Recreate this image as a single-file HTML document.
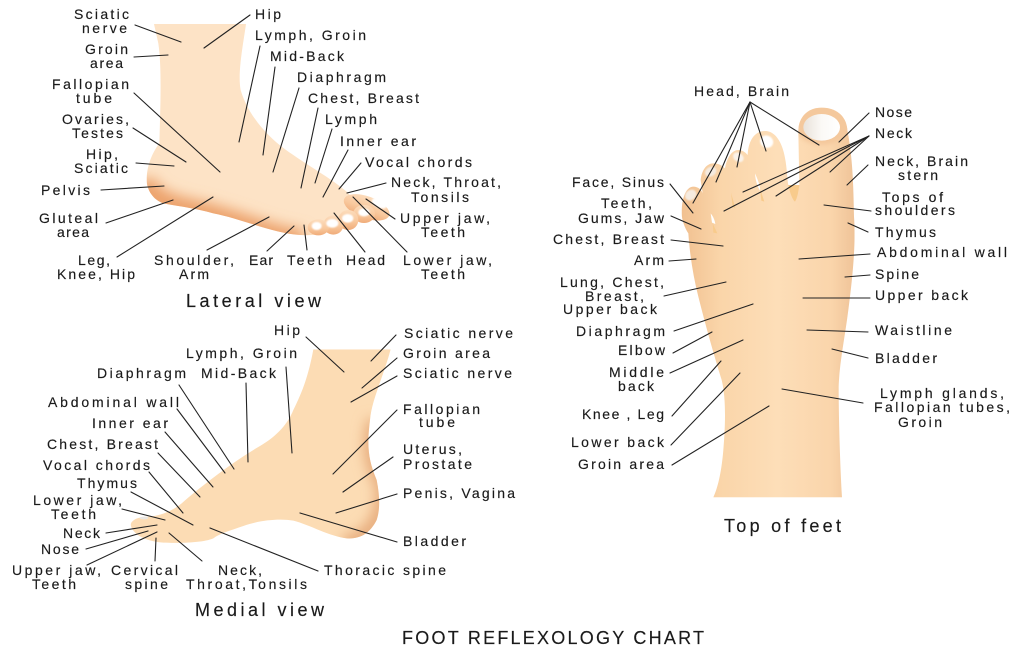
<!DOCTYPE html>
<html>
<head>
<meta charset="utf-8">
<style>
html,body{margin:0;padding:0;background:#fff;width:1023px;height:652px;overflow:hidden}
svg{display:block}
text{font-family:"Liberation Sans",sans-serif;font-size:14px;fill:#1a1a1a;stroke:#1a1a1a;stroke-width:.15}
.t{font-size:18px}
line{stroke:#222;stroke-width:1.1;stroke-linecap:round}
</style>
</head>
<body>
<svg width="1023" height="652" viewBox="0 0 1023 652" xmlns="http://www.w3.org/2000/svg">
<defs>
<linearGradient id="toe" x1="0" y1="0" x2="0" y2="1">
<stop offset="0" stop-color="#fcdcbc"/><stop offset=".55" stop-color="#f9c99e"/><stop offset="1" stop-color="#f0ac7a"/>
</linearGradient>
<linearGradient id="top" gradientUnits="userSpaceOnUse" x1="395" y1="0" x2="915" y2="0">
<stop offset="0" stop-color="#f1c090"/><stop offset=".22" stop-color="#fad5a9"/><stop offset=".55" stop-color="#fddeb8"/><stop offset=".86" stop-color="#fad5ab"/><stop offset="1" stop-color="#efc398"/>
</linearGradient>
<linearGradient id="nail" x1="0" y1="0" x2="1" y2="0">
<stop offset="0" stop-color="#e9e2da"/><stop offset=".5" stop-color="#fbf9f6"/><stop offset="1" stop-color="#ffffff"/>
</linearGradient>
<filter id="b18" x="-30%" y="-30%" width="160%" height="160%"><feGaussianBlur stdDeviation="20"/></filter>
<filter id="b3" x="-40%" y="-40%" width="180%" height="180%"><feGaussianBlur stdDeviation="2"/></filter>
<filter id="b6" x="-30%" y="-30%" width="160%" height="160%"><feGaussianBlur stdDeviation="6"/></filter>
<clipPath id="clat"><path d="M462,72 L738,72 C730,130 712,220 722,270 C745,350 810,420 880,465 C930,500 1000,540 1040,575 C1070,600 1060,650 1000,690 C960,705 930,707 900,705 C820,700 720,655 640,640 C590,625 530,618 490,610 C460,600 440,570 440,540 C440,500 455,460 478,430 C482,300 485,200 475,130 Z"/></clipPath>
<clipPath id="cmed"><path d="M940,88 L1172,88 C1150,170 1115,240 1110,300 C1100,380 1105,420 1130,480 C1140,530 1140,570 1130,600 C1110,640 1080,658 1040,655 C990,650 930,615 880,602 C840,595 780,600 730,618 C690,632 660,640 640,655 C610,668 540,670 490,668 C450,665 400,650 392,615 C395,595 425,590 450,590 C490,585 520,570 545,550 C590,510 690,430 780,378 C820,355 860,320 880,270 C905,220 925,170 940,88 Z"/></clipPath>
<clipPath id="ctop"><path d="M490,1282 L876,1282 C870,1180 866,1040 866,950 C868,880 885,800 895,720 C908,620 918,520 912,440 C910,310 905,250 892,180 C890,140 860,113 815,113 C775,113 745,140 745,185 L748,345 L715,345 C712,330 712,310 707,275 C700,225 680,183 645,183 C615,183 595,210 593,255 C585,245 575,240 565,240 C545,240 530,265 525,295 C515,285 505,280 490,280 C470,280 455,300 452,330 L458,370 C455,360 445,350 430,350 C410,350 395,380 395,430 C395,450 405,475 415,490 C420,560 430,620 445,680 C465,760 490,850 515,930 C530,990 525,1080 520,1140 C515,1200 505,1250 490,1282 Z"/></clipPath>
</defs>

<!-- Lateral foot -->
<g transform="scale(0.33333)">
<g clip-path="url(#clat)">
<rect x="430" y="60" width="760" height="660" fill="#fde3c6"/>
<path d="M430,540 C445,625 590,630 640,650 C720,670 820,715 910,725" fill="none" stroke="#eca26c" stroke-width="72" filter="url(#b18)"/>
</g>
<ellipse cx="1100" cy="622" rx="72" ry="33" fill="url(#toe)" transform="rotate(20 1100 622)"/>
<ellipse cx="1092" cy="642" rx="33" ry="27" fill="url(#toe)"/>
<ellipse cx="1045" cy="660" rx="30" ry="30" fill="url(#toe)"/>
<ellipse cx="1000" cy="675" rx="30" ry="29" fill="url(#toe)"/>
<ellipse cx="955" cy="682" rx="32" ry="24" fill="url(#toe)"/>
<ellipse cx="1138" cy="610" rx="24" ry="13" fill="#fff" transform="rotate(25 1138 610)" filter="url(#b3)"/>
<ellipse cx="1092" cy="637" rx="17" ry="12" fill="#fff" filter="url(#b3)"/>
<ellipse cx="1043" cy="655" rx="17" ry="13" fill="#fff" filter="url(#b3)"/>
<ellipse cx="997" cy="670" rx="18" ry="13" fill="#fff" filter="url(#b3)"/>
<ellipse cx="950" cy="678" rx="15" ry="12" fill="#fff" filter="url(#b3)"/>
</g>

<!-- Medial foot -->
<g transform="translate(0,320) scale(0.33333)">
<g clip-path="url(#cmed)">
<rect x="380" y="80" width="800" height="600" fill="#fcdcb4"/>
<path d="M1125,300 C1100,400 1125,440 1150,500 C1155,580 1120,660 1030,670" fill="none" stroke="#e5a878" stroke-width="44" filter="url(#b18)"/>
</g>
<ellipse cx="432" cy="594" rx="13" ry="4" fill="#e9e6e2"/>
</g>

<!-- Top foot -->
<g transform="translate(550,70) scale(0.33333)">
<g clip-path="url(#ctop)">
<rect x="380" y="100" width="540" height="1190" fill="url(#top)"/>
<ellipse cx="815" cy="165" rx="80" ry="60" fill="#f4c89c" filter="url(#b6)"/>
</g>
<ellipse cx="815" cy="172" rx="55" ry="40" fill="url(#nail)"/>
<ellipse cx="650" cy="215" rx="20" ry="18" fill="#fff" transform="rotate(30 650 215)" filter="url(#b3)"/>
<ellipse cx="565" cy="262" rx="17" ry="13" fill="#fbf3ea" transform="rotate(35 565 262)" filter="url(#b3)"/>
<ellipse cx="482" cy="305" rx="18" ry="14" fill="#f5ebe0" transform="rotate(-30 482 305)" filter="url(#b3)"/>
<ellipse cx="422" cy="375" rx="18" ry="15" fill="#f5ebe0" transform="rotate(-40 422 375)" filter="url(#b3)"/>
<path fill="#f8cb8c" d="M715,345 L748,345 C745,365 742,385 735,395 C728,390 720,370 715,345 Z"/>
<path fill="#fff" d="M615,310 C622,325 630,345 632,365 C622,350 616,330 615,310 Z"/>
<path fill="#f8cb8c" d="M630,355 L643,395 L634,392 Z"/>
<path fill="#f8cb8c" d="M543,368 L556,415 L548,410 Z"/>
<path fill="#fff" d="M482,430 C490,440 494,450 496,462 L486,458 Z"/>
<path fill="#f8cb8c" d="M488,460 L502,490 L490,488 Z"/>
</g>

<!-- Lateral lines -->
<line x1="135" y1="25" x2="181" y2="42"/><line x1="250" y1="15" x2="204" y2="48"/>
<line x1="134" y1="57" x2="168" y2="55"/><line x1="260" y1="46" x2="239" y2="142"/>
<line x1="275" y1="67" x2="263" y2="155"/><line x1="299" y1="88" x2="273" y2="172"/>
<line x1="318" y1="108" x2="301" y2="188"/><line x1="332" y1="129" x2="315" y2="183"/>
<line x1="348" y1="150" x2="323" y2="197"/><line x1="361" y1="163" x2="339" y2="189"/>
<line x1="386" y1="183" x2="347" y2="193"/><line x1="395" y1="219" x2="366" y2="199"/>
<line x1="407" y1="252" x2="353" y2="197"/><line x1="365" y1="252" x2="334" y2="213"/>
<line x1="307" y1="250" x2="304" y2="225"/><line x1="267" y1="251" x2="294" y2="226"/>
<line x1="207" y1="250" x2="269" y2="217"/><line x1="117" y1="257" x2="213" y2="197"/>
<line x1="106" y1="223" x2="173" y2="200"/><line x1="101" y1="190" x2="164" y2="186"/>
<line x1="136" y1="163" x2="174" y2="166"/><line x1="133" y1="128" x2="186" y2="162"/>
<line x1="134" y1="93" x2="220" y2="172"/>

<!-- Medial lines -->
<line x1="306" y1="337" x2="344" y2="372"/><line x1="396" y1="335" x2="371" y2="361"/>
<line x1="397" y1="358" x2="362" y2="388"/><line x1="397" y1="376" x2="351" y2="402"/>
<line x1="286" y1="367" x2="292" y2="453"/><line x1="246" y1="383" x2="248" y2="462"/>
<line x1="179" y1="385" x2="234" y2="469"/><line x1="177" y1="409" x2="225" y2="473"/>
<line x1="165" y1="432" x2="213" y2="487"/><line x1="158" y1="453" x2="200" y2="497"/>
<line x1="149" y1="472" x2="183" y2="513"/><line x1="131" y1="492" x2="193" y2="525"/>
<line x1="122" y1="509" x2="165" y2="520"/><line x1="106" y1="533" x2="157" y2="525"/>
<line x1="86" y1="549" x2="148" y2="531"/><line x1="87" y1="565" x2="157" y2="532"/>
<line x1="155" y1="561" x2="156" y2="538"/><line x1="202" y1="561" x2="169" y2="533"/>
<line x1="318" y1="571" x2="210" y2="528"/><line x1="397" y1="542" x2="300" y2="513"/>
<line x1="397" y1="494" x2="336" y2="513"/><line x1="393" y1="457" x2="343" y2="492"/>
<line x1="397" y1="410" x2="333" y2="474"/>

<!-- Top lines -->
<line x1="750" y1="102" x2="693" y2="203"/><line x1="750" y1="102" x2="716" y2="182"/>
<line x1="750" y1="102" x2="737" y2="167"/><line x1="750" y1="102" x2="766" y2="151"/>
<line x1="750" y1="102" x2="819" y2="145"/><line x1="869" y1="113" x2="839" y2="142"/>
<line x1="869" y1="136" x2="743" y2="192"/><line x1="869" y1="136" x2="724" y2="211"/>
<line x1="869" y1="136" x2="776" y2="196"/><line x1="869" y1="136" x2="830" y2="172"/>
<line x1="868" y1="165" x2="847" y2="185"/><line x1="871" y1="211" x2="824" y2="205"/>
<line x1="868" y1="232" x2="848" y2="223"/><line x1="870" y1="254" x2="799" y2="259"/>
<line x1="870" y1="275" x2="845" y2="277"/><line x1="870" y1="298" x2="803" y2="298"/>
<line x1="868" y1="332" x2="807" y2="330"/><line x1="868" y1="358" x2="832" y2="349"/>
<line x1="863" y1="403" x2="782" y2="389"/><line x1="670" y1="184" x2="693" y2="213"/>
<line x1="671" y1="216" x2="701" y2="229"/><line x1="671" y1="240" x2="723" y2="246"/>
<line x1="669" y1="261" x2="696" y2="259"/><line x1="664" y1="296" x2="726" y2="282"/>
<line x1="674" y1="331" x2="753" y2="304"/><line x1="673" y1="353" x2="712" y2="332"/>
<line x1="670" y1="373" x2="743" y2="340"/><line x1="672" y1="416" x2="721" y2="361"/>
<line x1="671" y1="445" x2="740" y2="373"/><line x1="672" y1="465" x2="769" y2="406"/>

<!-- Lateral labels -->
<text x="74" y="19" textLength="55">Sciatic</text><text x="82" y="33" textLength="45">nerve</text>
<text x="85" y="54" textLength="43">Groin</text><text x="90" y="68" textLength="33">area</text>
<text x="52" y="89" textLength="77">Fallopian</text><text x="76" y="103" textLength="36">tube</text>
<text x="62" y="124" textLength="67">Ovaries,</text><text x="72" y="138" textLength="51">Testes</text>
<text x="86" y="159" textLength="32">Hip,</text><text x="74" y="173" textLength="54">Sciatic</text>
<text x="41" y="195" textLength="49">Pelvis</text>
<text x="39" y="223" textLength="59">Gluteal</text><text x="57" y="237" textLength="32">area</text>
<text x="78" y="265" textLength="32">Leg,</text><text x="57" y="279" textLength="78">Knee, Hip</text>
<text x="154" y="265" textLength="80">Shoulder,</text><text x="179" y="279" textLength="30">Arm</text>
<text x="249" y="265" textLength="24">Ear</text><text x="287" y="265" textLength="45">Teeth</text>
<text x="346" y="265" textLength="39">Head</text>
<text x="403" y="265" textLength="89">Lower jaw,</text><text x="421" y="279" textLength="44">Teeth</text>
<text x="400" y="223" textLength="90">Upper jaw,</text><text x="421" y="237" textLength="44">Teeth</text>
<text x="391" y="187" textLength="110">Neck, Throat,</text><text x="411" y="202" textLength="58">Tonsils</text>
<text x="365" y="167" textLength="107">Vocal chords</text>
<text x="340" y="146" textLength="76">Inner ear</text>
<text x="325" y="124" textLength="52">Lymph</text>
<text x="308" y="103" textLength="111">Chest, Breast</text>
<text x="297" y="82" textLength="89">Diaphragm</text>
<text x="270" y="61" textLength="74">Mid-Back</text>
<text x="255" y="40" textLength="111">Lymph, Groin</text>
<text x="255" y="19" textLength="26">Hip</text>
<text class="t" x="186" y="307" textLength="135">Lateral view</text>

<!-- Medial labels -->
<text x="274" y="335" textLength="26">Hip</text>
<text x="186" y="358" textLength="111">Lymph, Groin</text>
<text x="97" y="378" textLength="89">Diaphragm</text>
<text x="201" y="378" textLength="75">Mid-Back</text>
<text x="48" y="407" textLength="131">Abdominal wall</text>
<text x="92" y="428" textLength="76">Inner ear</text>
<text x="47" y="449" textLength="111">Chest, Breast</text>
<text x="43" y="470" textLength="107">Vocal chords</text>
<text x="77" y="488" textLength="60">Thymus</text>
<text x="33" y="505" textLength="89">Lower jaw,</text><text x="51" y="519" textLength="45">Teeth</text>
<text x="63" y="538" textLength="37">Neck</text>
<text x="41" y="554" textLength="38">Nose</text>
<text x="12" y="575" textLength="89">Upper jaw,</text><text x="32" y="589" textLength="44">Teeth</text>
<text x="111" y="575" textLength="67">Cervical</text><text x="125" y="589" textLength="43">spine</text>
<text x="218" y="575" textLength="44">Neck,</text><text x="186" y="589" textLength="121">Throat,Tonsils</text>
<text x="324" y="575" textLength="122">Thoracic spine</text>
<text x="403" y="546" textLength="63">Bladder</text>
<text x="403" y="498" textLength="112">Penis, Vagina</text>
<text x="403" y="454" textLength="59">Uterus,</text><text x="403" y="469" textLength="69">Prostate</text>
<text x="403" y="414" textLength="77">Fallopian</text><text x="419" y="427" textLength="36">tube</text>
<text x="404" y="338" textLength="109">Sciatic nerve</text>
<text x="403" y="358" textLength="87">Groin area</text>
<text x="403" y="378" textLength="109">Sciatic nerve</text>
<text class="t" x="195" y="616" textLength="129">Medial view</text>
<text class="t" x="402" y="644" textLength="302">FOOT REFLEXOLOGY CHART</text>

<!-- Top labels -->
<text x="694" y="96" textLength="95">Head, Brain</text>
<text x="875" y="117" textLength="37">Nose</text>
<text x="875" y="138" textLength="37">Neck</text>
<text x="875" y="166" textLength="93">Neck, Brain</text><text x="898" y="180" textLength="40">stern</text>
<text x="882" y="202" textLength="61">Tops of</text><text x="875" y="215" textLength="80">shoulders</text>
<text x="875" y="237" textLength="61">Thymus</text>
<text x="877" y="257" textLength="130">Abdominal wall</text>
<text x="875" y="279" textLength="44">Spine</text>
<text x="875" y="300" textLength="93">Upper back</text>
<text x="875" y="335" textLength="77">Waistline</text>
<text x="875" y="363" textLength="62">Bladder</text>
<text x="880" y="398" textLength="124">Lymph glands,</text>
<text x="874" y="412" textLength="136">Fallopian tubes,</text>
<text x="898" y="427" textLength="44">Groin</text>
<text class="t" x="724" y="532" textLength="117">Top of feet</text>
<text x="572" y="187" textLength="92">Face, Sinus</text>
<text x="601" y="208" textLength="51">Teeth,</text><text x="578" y="223" textLength="86">Gums, Jaw</text>
<text x="553" y="244" textLength="111">Chest, Breast</text>
<text x="634" y="265" textLength="30">Arm</text>
<text x="560" y="287" textLength="104">Lung, Chest,</text><text x="585" y="301" textLength="59">Breast,</text><text x="563" y="314" textLength="94">Upper back</text>
<text x="576" y="336" textLength="89">Diaphragm</text>
<text x="618" y="355" textLength="47">Elbow</text>
<text x="609" y="377" textLength="55">Middle</text><text x="618" y="391" textLength="36">back</text>
<text x="582" y="419" textLength="82">Knee , Leg</text>
<text x="571" y="447" textLength="93">Lower back</text>
<text x="578" y="469" textLength="86">Groin area</text>
</svg>
</body>
</html>
